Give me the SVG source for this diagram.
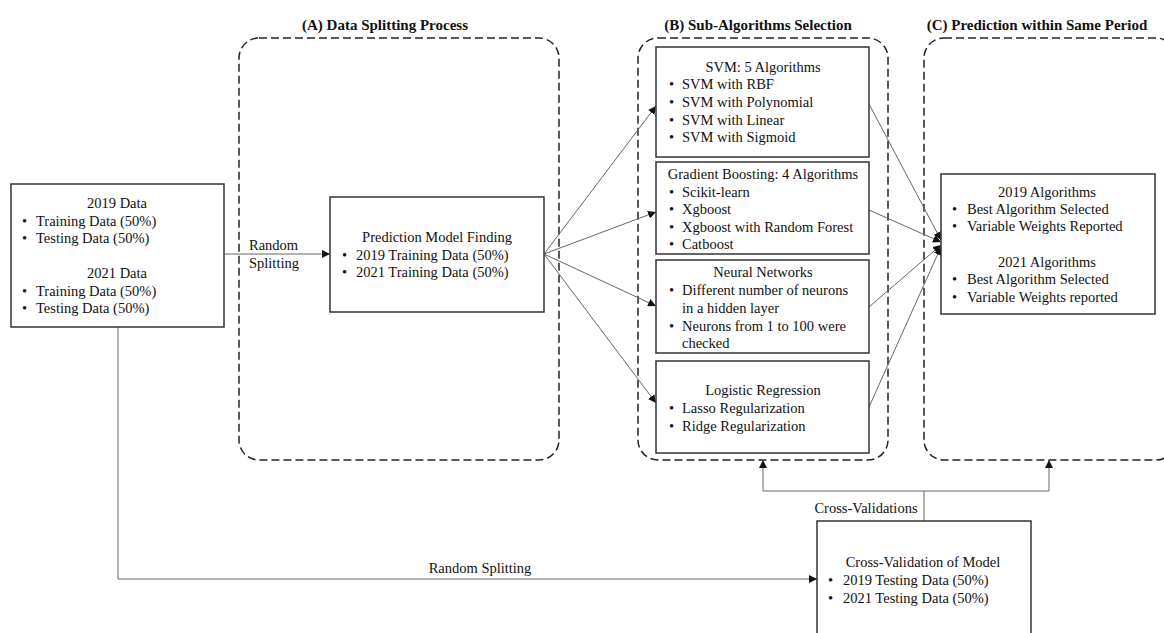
<svg xmlns="http://www.w3.org/2000/svg" width="1164" height="633" viewBox="0 0 1164 633">
<style>
text{font-family:"Liberation Serif","Times New Roman",serif;font-size:14.5px;fill:#111}
.title{font-weight:bold;font-size:15px;text-anchor:middle}
.c{text-anchor:middle}
.box{fill:#fff;stroke:#333;stroke-width:1.5}
.grp{fill:none;stroke:#222;stroke-width:1.5;stroke-dasharray:8 4}
.ln{fill:none;stroke:#666;stroke-width:1}
</style>
<defs>
<marker id="ah" viewBox="0 0 10 10" refX="10" refY="5" markerWidth="8" markerHeight="8" markerUnits="userSpaceOnUse" orient="auto">
<path d="M0,0 L10,5 L0,10 z" fill="#111"/>
</marker>
</defs>
<rect width="1164" height="633" fill="#fff"/>

<g id="groupA">
<rect class="grp" x="239" y="38" width="320" height="422" rx="20"/>
<text class="title" x="385" y="30">(A) Data Splitting Process</text>
</g>
<g id="groupB">
<rect class="grp" x="638" y="38" width="250" height="422" rx="20"/>
<text class="title" x="758" y="30">(B) Sub-Algorithms Selection</text>
</g>
<g id="groupC">
<rect class="grp" x="924" y="38" width="252" height="422" rx="20"/>
<text class="title" x="1037" y="30">(C) Prediction within Same Period</text>
</g>

<g id="connectors">
<line class="ln" x1="224" y1="254" x2="330" y2="254" marker-end="url(#ah)"/>
<line class="ln" x1="544" y1="254" x2="656" y2="106" marker-end="url(#ah)"/>
<line class="ln" x1="544" y1="254" x2="656" y2="212" marker-end="url(#ah)"/>
<line class="ln" x1="544" y1="254" x2="656" y2="306" marker-end="url(#ah)"/>
<line class="ln" x1="544" y1="254" x2="656" y2="403" marker-end="url(#ah)"/>
<line class="ln" x1="869" y1="104" x2="941" y2="240" marker-end="url(#ah)"/>
<line class="ln" x1="869" y1="210" x2="941" y2="242" marker-end="url(#ah)"/>
<line class="ln" x1="869" y1="307" x2="941" y2="245" marker-end="url(#ah)"/>
<line class="ln" x1="869" y1="407" x2="941" y2="247" marker-end="url(#ah)"/>
<polyline class="ln" points="118,327 118,579 817,579" marker-end="url(#ah)"/>
<line class="ln" x1="924" y1="521" x2="924" y2="491"/>
<polyline class="ln" points="924,491 763,491 763,460" marker-end="url(#ah)"/>
<polyline class="ln" points="924,491 1049,491 1049,460" marker-end="url(#ah)"/>
<text x="249" y="250">Random</text>
<text x="249" y="268">Splitting</text>
<text class="c" x="480" y="573">Random Splitting</text>
<text class="c" x="866" y="513">Cross-Validations</text>
</g>

<g id="data">
<rect class="box" x="11" y="184" width="213" height="143"/>
<text class="c" x="117" y="208">2019 Data</text>
<text x="22" y="226">•</text><text x="36" y="226">Training Data (50%)</text>
<text x="22" y="243">•</text><text x="36" y="243">Testing Data (50%)</text>
<text class="c" x="117" y="278">2021 Data</text>
<text x="22" y="296">•</text><text x="36" y="296">Training Data (50%)</text>
<text x="22" y="313">•</text><text x="36" y="313">Testing Data (50%)</text>
</g>

<g id="prediction">
<rect class="box" x="330" y="197" width="214" height="115"/>
<text class="c" x="437" y="242">Prediction Model Finding</text>
<text x="342" y="260">•</text><text x="356" y="260">2019 Training Data (50%)</text>
<text x="342" y="277">•</text><text x="356" y="277">2021 Training Data (50%)</text>
</g>

<g id="svm">
<rect class="box" x="656" y="47" width="213" height="110"/>
<text class="c" x="763" y="72">SVM: 5 Algorithms</text>
<text x="669" y="89">•</text><text x="682" y="89">SVM with RBF</text>
<text x="669" y="107">•</text><text x="682" y="107">SVM with Polynomial</text>
<text x="669" y="125">•</text><text x="682" y="125">SVM with Linear</text>
<text x="669" y="142">•</text><text x="682" y="142">SVM with Sigmoid</text>
</g>

<g id="gb">
<rect class="box" x="656" y="162" width="213" height="92"/>
<text class="c" x="763" y="179">Gradient Boosting: 4 Algorithms</text>
<text x="669" y="197">•</text><text x="682" y="197">Scikit-learn</text>
<text x="669" y="214">•</text><text x="682" y="214">Xgboost</text>
<text x="669" y="232">•</text><text x="682" y="232">Xgboost with Random Forest</text>
<text x="669" y="249">•</text><text x="682" y="249">Catboost</text>
</g>

<g id="nn">
<rect class="box" x="656" y="260" width="213" height="93"/>
<text class="c" x="763" y="277">Neural Networks</text>
<text x="669" y="295">•</text><text x="682" y="295">Different number of neurons</text>
<text x="682" y="313">in a hidden layer</text>
<text x="669" y="331">•</text><text x="682" y="331">Neurons from 1 to 100 were</text>
<text x="682" y="348">checked</text>
</g>

<g id="lr">
<rect class="box" x="656" y="361" width="213" height="92"/>
<text class="c" x="763" y="395">Logistic Regression</text>
<text x="669" y="413">•</text><text x="682" y="413">Lasso Regularization</text>
<text x="669" y="431">•</text><text x="682" y="431">Ridge Regularization</text>
</g>

<g id="results">
<rect class="box" x="941" y="174" width="214" height="140"/>
<text class="c" x="1047" y="197">2019 Algorithms</text>
<text x="952" y="214">•</text><text x="967" y="214">Best Algorithm Selected</text>
<text x="952" y="231">•</text><text x="967" y="231">Variable Weights Reported</text>
<text class="c" x="1047" y="267">2021 Algorithms</text>
<text x="952" y="284">•</text><text x="967" y="284">Best Algorithm Selected</text>
<text x="952" y="302">•</text><text x="967" y="302">Variable Weights reported</text>
</g>

<g id="crossval">
<rect class="box" x="817" y="521" width="214" height="125"/>
<text class="c" x="923" y="567">Cross-Validation of Model</text>
<text x="828" y="585">•</text><text x="843" y="585">2019 Testing Data (50%)</text>
<text x="828" y="603">•</text><text x="843" y="603">2021 Testing Data (50%)</text>
</g>
</svg>
